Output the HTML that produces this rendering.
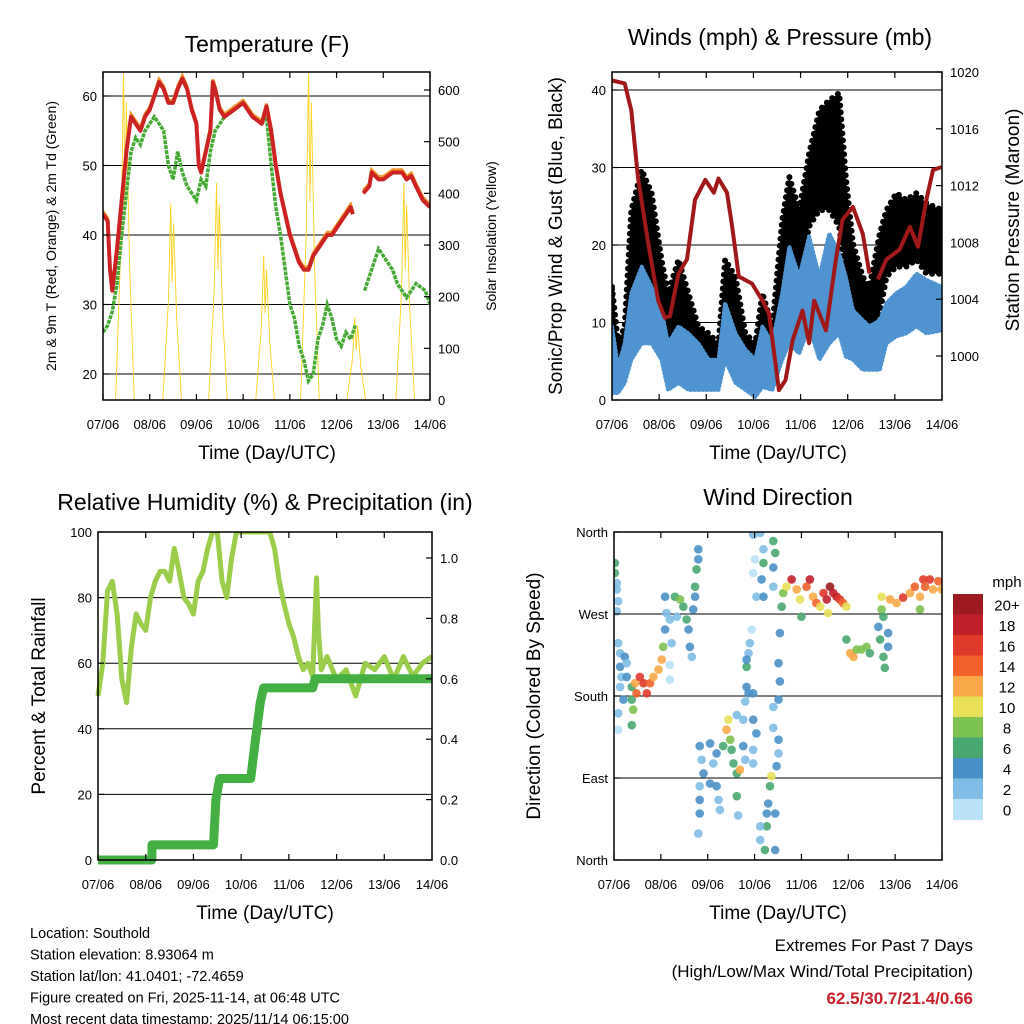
<!DOCTYPE html>
<html><head><meta charset="utf-8"><style>
html,body{margin:0;padding:0;background:#fff;}
svg{display:block;font-family:"Liberation Sans",sans-serif;}
</style></head><body>
<svg id="c" width="1024" height="1024" viewBox="0 0 1024 1024"></svg>
<script>
// ===== Temperature panel data (days since 07/06) =====
const tempT = [0,0.1,0.15,0.2,0.3,0.4,0.5,0.6,0.7,0.8,0.9,1.0,1.1,1.2,1.3,1.4,1.5,1.6,1.7,1.8,1.9,2.0,2.05,2.1,2.2,2.3,2.35,2.4,2.5,2.6,2.8,3.0,3.1,3.2,3.4,3.5,3.6,3.7,3.8,3.9,4.0,4.1,4.2,4.3,4.4,4.5,4.6,4.7,4.8,4.9,5.0,5.1,5.2,5.3,5.35,5.45,5.57,5.7,5.75,5.9,6.0,6.2,6.4,6.5,6.6,6.7,6.85,7.0];
const tempV = [43,42,35,32,38,45,52,57,56,55,57,58,60,62,61,59,59,61,62.5,61,58,56,50,49,52,55,62,61,58,57,58,59,58,57,56,58.5,55,50,46,43,40,38,36,35,35,37,38,39,40,40,41,42,43,44,43,null,46,47,49,48,48,49,49,48,48.5,47,45,44];
const dewT = [0,0.1,0.2,0.3,0.4,0.5,0.6,0.7,0.8,0.9,1.0,1.1,1.2,1.3,1.4,1.5,1.6,1.7,1.8,1.9,2.0,2.1,2.2,2.3,2.4,2.5,2.6,2.8,3.0,3.2,3.4,3.5,3.6,3.7,3.8,3.9,4.0,4.1,4.2,4.3,4.4,4.5,4.6,4.7,4.8,4.9,5.0,5.1,5.2,5.3,5.4,5.5,5.6,5.8,5.9,6.0,6.2,6.3,6.5,6.7,6.9,7.0];
const dewV = [26,27,29,33,40,46,52,54,53,55,56,57,56,55,50,48,52,49,47,46,45,48,47,52,55,56,57,58,59,57,56,57,50,44,40,35,30,28,24,22,19,20,25,27,30,28,25,24,26,25,27,null,32,36,38,37,35,33,31,33,32,30];
const solarPeakT = [0.47,1.48,2.46,3.47,4.43,5.42,6.47];
const solarPeakV = [640,380,420,280,640,160,420];
// ===== Winds panel =====
const presT = [0,0.27,0.41,0.55,0.77,0.98,1.12,1.23,1.41,1.59,1.76,1.98,2.16,2.26,2.44,2.55,2.69,2.97,3.19,3.33,3.54,3.68,3.83,4.04,4.18,4.29,4.54,4.75,4.89,5.11,5.32,5.46,5.55,5.64,5.82,6.1,6.32,6.49,6.67,6.81,6.99];
const presV = [1019.4,1019.2,1017.3,1012.6,1007.9,1003.9,1002.7,1002.8,1005.8,1006.8,1011.0,1012.4,1011.5,1012.5,1011.5,1009.1,1005.6,1005.1,1003.9,1003.0,997.6,998.3,1001.1,1003.2,1000.9,1003.9,1001.8,1006.8,1009.6,1010.5,1008.6,1005.8,null,1005.4,1006.8,1007.5,1009.1,1007.7,1011.0,1013.1,1013.3];
const windT = [0,0.13,0.27,0.41,0.63,0.84,1.05,1.19,1.41,1.62,1.83,2.05,2.26,2.4,2.62,2.83,3.04,3.19,3.4,3.61,3.76,3.97,4.18,4.4,4.61,4.82,4.96,5.11,5.32,5.46,5.68,5.82,6.03,6.24,6.46,6.67,7.0];
const gustHi = [14.6,7.3,9.5,24.5,29.7,26.7,18.1,13.8,18.1,13.8,9.5,8.6,7.3,18.1,15.9,8.6,7.3,13.8,9.5,23.2,28.8,24.5,31.8,37.4,38.7,39.6,28.8,20.2,15.9,14.6,21.5,24.5,26.7,25.8,26.7,25.4,24.5];
const gustLo = [5.2,4.3,4.3,13.8,15.9,13.8,10.8,6.0,7.3,6.0,4.3,4.3,3.0,9.5,7.3,4.3,3.0,5.2,3.0,13.8,15.9,15.9,22.4,24.5,24.5,22.4,15.9,10.8,8.6,8.2,11.2,15.9,17.2,17.2,18.1,16.3,16.3];
const windHi = [9.5,4.3,7.3,13.8,17.2,14.6,11.6,7.3,9.5,8.6,7.3,5.2,5.2,12.5,8.6,6.5,5.2,9.5,7.3,13.8,19.8,15.9,21.1,15.9,21.5,18.9,15.9,11.6,10.3,9.5,10.3,12.5,13.8,14.6,16.3,15.5,14.6];
const windLo = [0.9,0.9,2.2,5.2,7.3,7.3,5.2,1.3,2.2,1.3,1.3,1.3,1.3,5.2,2.2,1.3,0.4,1.7,1.3,5.2,7.3,6.0,9.5,5.2,7.3,8.6,5.6,5.2,3.9,3.9,3.9,7.3,8.2,8.6,9.5,8.6,9.0];
// ===== RH panel =====
const rhT = [0,0.1,0.2,0.3,0.4,0.5,0.6,0.7,0.8,0.9,1.0,1.1,1.2,1.3,1.4,1.5,1.6,1.7,1.8,1.9,2.0,2.1,2.2,2.3,2.4,2.5,2.6,2.7,2.8,2.9,3.0,3.2,3.4,3.6,3.7,3.8,3.9,4.0,4.1,4.2,4.3,4.4,4.5,4.58,4.62,4.68,4.8,5.0,5.2,5.4,5.6,5.8,6.0,6.2,6.4,6.6,6.8,7.0];
const rhV = [50,60,82,85,75,55,48,65,75,72,70,80,85,88,88,85,95,88,80,78,75,85,88,95,100,100,85,80,92,100,100,100,100,100,95,85,78,72,68,62,58,60,56,86,70,58,62,55,58,50,60,58,62,55,62,56,60,62];
const rainT = [0,1.13,1.13,2.42,2.47,2.55,2.62,3.2,3.3,3.4,3.47,4.5,4.55,7.0];
const rainV = [0,0,0.05,0.05,0.2,0.27,0.27,0.27,0.4,0.52,0.57,0.57,0.6,0.6];
// ===== Wind direction panel =====
const dirT = [0.02,0.02,0.06,0.06,0.09,0.06,0.09,0.13,0.23,0.13,0.27,0.16,0.27,0.13,0.2,0.09,0.09,0.38,0.38,0.41,0.38,0.45,0.48,0.55,0.63,0.7,0.77,0.84,0.95,1.02,1.05,1.19,1.19,1.09,1.12,1.09,1.19,1.23,1.3,1.34,1.41,1.48,1.55,1.59,1.62,1.66,1.69,1.73,1.76,1.8,1.8,1.73,1.83,1.87,1.91,1.83,1.83,1.83,1.8,2.05,2.12,2.19,2.19,2.23,2.26,2.05,2.33,2.4,2.44,2.48,2.51,2.55,2.62,2.69,2.62,2.65,2.76,2.8,2.62,2.76,2.83,2.87,2.9,2.94,2.83,2.87,2.8,2.97,2.97,3.04,2.97,2.97,2.83,2.97,3.01,2.97,3.12,3.19,3.19,3.15,3.04,3.19,3.4,3.44,3.4,3.4,3.54,3.51,3.54,3.51,3.4,3.4,3.51,3.51,3.47,3.36,3.33,3.29,3.26,3.26,3.12,3.12,3.22,3.44,3.44,3.61,3.58,3.68,3.79,3.9,3.97,4.0,4.11,4.18,4.25,4.32,4.4,4.47,4.54,4.61,4.68,4.75,4.82,4.89,4.96,4.57,4.96,5.04,5.11,5.18,5.28,5.39,5.46,5.64,5.68,5.75,5.78,5.85,5.85,5.71,5.71,5.75,5.89,6.03,6.17,6.32,6.42,6.53,6.53,6.6,6.74,6.81,6.92,6.99,6.64];
const dirDeg = [326,315,304,297,284,273,238,227,223,212,216,201,201,190,176,161,143,190,176,165,148,194,183,201,194,183,194,201,209,220,234,214,198,289,271,253,264,238,289,267,286,278,264,253,234,223,275,300,319,341,330,289,125,110,95,81,66,51,29,128,106,117,81,66,55,84,125,143,154,132,121,106,95,99,70,49,125,110,159,154,212,227,238,253,190,183,174,183,154,139,121,106,220,357,330,315,359,341,326,308,289,289,350,337,321,300,249,216,196,176,168,145,132,117,103,92,81,62,51,37,37,22,11,51,11,293,278,300,308,297,286,267,300,308,289,282,278,293,286,300,293,289,286,282,278,271,242,227,223,231,231,234,227,256,242,223,211,234,249,289,275,267,286,282,288,293,300,289,275,308,308,297,306,297,300];
const dirSpd = [7,6,3,3,2,2,2,2,4,4,3,3,4,2,4,2,1,6,6,8,6,12,14,16,16,16,14,13,12,12,9,1,1,4,3,4,2,2,6,3,8,6,6,4,4,2,5,6,7,4,4,4,4,2,4,2,4,4,2,4,3,4,4,2,2,4,7,12,10,8,6,6,7,12,6,3,4,3,2,2,6,3,2,1,4,4,2,4,4,4,2,2,5,2,1,1,3,3,6,4,2,4,6,6,4,2,4,4,4,4,2,2,4,2,4,10,6,4,4,6,2,2,6,4,4,8,6,10,18,12,10,6,14,18,12,14,10,16,18,20,18,18,16,14,10,10,6,12,12,9,8,8,7,4,6,6,6,4,4,10,8,6,12,12,16,12,14,12,8,16,16,12,14,12,14];
const cbLabels = ["20+","18","16","14","12","10","8","6","4","2","0"];
const cbColors = ["#9b1b1e","#c0202a","#e03a2a","#f0622a","#f8a848","#e8e058","#7cc250","#48a870","#4a90c8","#80bce6","#b8e2f8"];
const xTickLabels = ["07/06","08/06","09/06","10/06","11/06","12/06","13/06","14/06"];

const NS="http://www.w3.org/2000/svg";
const svg=document.getElementById('c');
function mk(tag,attrs,parent){const e=document.createElementNS(NS,tag);for(const k in attrs)e.setAttribute(k,attrs[k]);(parent||svg).appendChild(e);return e;}
function txt(s,x,y,size,anchor,extra,parent){const e=mk('text',Object.assign({x:x,y:y,'font-size':size,'text-anchor':anchor||'middle',fill:'#000'},extra||{}),parent);e.textContent=s;return e;}
function lin(d0,d1,p0,p1){return v=>p0+(v-d0)/(d1-d0)*(p1-p0);}
function pathFrom(ts,vs,fx,fy){let d='',pen=false;for(let i=0;i<ts.length;i++){if(vs[i]===null){pen=false;continue;}d+=(pen?'L':'M')+fx(ts[i]).toFixed(1)+','+fy(vs[i]).toFixed(1);pen=true;}return d;}
function colorFor(s){let i=Math.min(10,Math.floor(s/2));return cbColors[10-i];}

function frame(g,L,R,T,B,grid,fy){
  grid.forEach(v=>{const y=fy(v);mk('line',{x1:L,x2:R,y1:y,y2:y,stroke:'#000','stroke-width':1},g);});
}
function border(g,L,R,T,B,name){
  const r=mk('rect',{x:L,y:T,width:R-L,height:B-T,fill:'none',stroke:'#000','stroke-width':1.5},g);
  
  
  const fx=lin(0,7,L,R);
  for(let i=0;i<8;i++){const x=fx(i);
    mk('line',{x1:x,x2:x,y1:B,y2:B-6,stroke:'#000','stroke-width':1.2},g);
    mk('line',{x1:x,x2:x,y1:T,y2:T+6,stroke:'#000','stroke-width':1.2},g);
    const t=txt(xTickLabels[i],x,B+29,13,'middle',{},g);
    
    
  }
}
function yTicks(g,ticks,fy,x,side,labels,size){
  ticks.forEach((v,i)=>{const y=fy(v);
    mk('line',{x1:x,x2:x+(side==='left'?6:-6),y1:y,y2:y,stroke:'#000','stroke-width':1.2},g);
    const t=txt(labels?labels[i]:String(v),side==='left'?x-6:x+8,y+5,size||13,side==='left'?'end':'start',{},g);
    
    
  });
}
function vtitle(s,x,y,size,g,name){const t=txt(s,x,y,size,'middle',{transform:`rotate(-90 ${x} ${y})`},g);}

// ---------- Panel 1: Temperature ----------
(function(){
  const g=mk('g',{});
  const L=103,R=430,T=72,B=400;
  const fx=lin(0,7,L,R), fy=lin(20,60,374,96), fs=lin(0,600,400,90);
  frame(g,L,R,T,B,[20,30,40,50,60],fy);
  const cp=mk('clipPath',{id:'cp1'},g);mk('rect',{x:L,y:T,width:R-L,height:B-T},cp);
  const inner=mk('g',{'clip-path':'url(#cp1)'},g);
  solarPeakT.forEach((t,i)=>{const v=solarPeakV[i];
    const d=`M${fx(t-0.2)},${fs(0)} L${fx(t-0.08)},${fs(v*0.5)} L${fx(t-0.03)},${fs(v)} L${fx(t)},${fs(v*0.6)} L${fx(t+0.03)},${fs(v*0.9)} L${fx(t+0.1)},${fs(v*0.4)} L${fx(t+0.2)},${fs(0)}`;
    const p=mk('path',{d:d,fill:'none',stroke:'#ffd21f','stroke-width':0.9},inner);
    });
  const pg=mk('path',{d:pathFrom(dewT,dewV,fx,fy),fill:'none',stroke:'#44aa33','stroke-width':3.5,'stroke-dasharray':'4 1'},inner);
  
  const po=mk('path',{d:pathFrom(tempT,tempV.map(v=>v===null?null:v+0.4),fx,fy),fill:'none',stroke:'#f0962a','stroke-width':3},inner);
  
  const pr=mk('path',{d:pathFrom(tempT,tempV,fx,fy),fill:'none',stroke:'#cc2222','stroke-width':4,'stroke-linejoin':'round'},inner);
  
  border(g,L,R,T,B,'temperature-plot-frame');
  yTicks(g,[20,30,40,50,60],fy,L,'left');
  yTicks(g,[0,100,200,300,400,500,600],fs,R,'right');
  const t=txt('Temperature (F)',267,52,23,'middle',{},g);
  const xt=txt('Time (Day/UTC)',267,459,19,'middle',{},g);
  vtitle('2m & 9m T (Red, Orange) & 2m Td (Green)',56,236,14,g,'y-axis-title-left');
  vtitle('Solar Insolation (Yellow)',496,236,14,g,'y-axis-title-right');
})();

// ---------- Panel 2: Winds ----------
(function(){
  const g=mk('g',{});
  const L=612,R=942,T=72,B=400;
  const fx=lin(0,7,L,R), fy=lin(0,40,400,90), fp=lin(1000,1020,356,72);
  frame(g,L,R,T,B,[10,20,30,40],fy);
  const cp=mk('clipPath',{id:'cp2'},g);mk('rect',{x:L,y:T,width:R-L,height:B-T},cp);
  const inner=mk('g',{'clip-path':'url(#cp2)'},g);
  function band(hi,lo,col,name,w,dash){let d='';windT.forEach((t,i)=>{d+=(i?'L':'M')+fx(t).toFixed(1)+','+fy(hi[i]).toFixed(1);});
    for(let i=windT.length-1;i>=0;i--)d+='L'+fx(windT[i]).toFixed(1)+','+fy(lo[i]).toFixed(1);d+='Z';
    const p=mk('path',{d:d,fill:col,stroke:col,'stroke-width':w,'stroke-dasharray':dash,'stroke-linecap':'round','stroke-linejoin':'round'},inner);}
  band(gustHi,gustLo,'#000','gust-scatter',6,'0 7');
  band(windHi,windLo,'#4f94d0','wind-scatter',4,'1 3');
  const pp=mk('path',{d:pathFrom(presT,presV,fx,fp),fill:'none',stroke:'#a01818','stroke-width':4,'stroke-linejoin':'round'},inner);
  
  border(g,L,R,T,B,'winds-plot-frame');
  yTicks(g,[0,10,20,30,40],fy,L,'left');
  yTicks(g,[1000,1004,1008,1012,1016,1020],fp,R,'right');
  const t=txt('Winds (mph) & Pressure (mb)',780,45,23,'middle',{},g);
  const xt=txt('Time (Day/UTC)',778,459,19,'middle',{},g);
  vtitle('Sonic/Prop Wind & Gust (Blue, Black)',562,236,19,g,'y-axis-title-left');
  vtitle('Station Pressure (Maroon)',1019,220,19,g,'y-axis-title-right');
})();

// ---------- Panel 3: RH ----------
(function(){
  const g=mk('g',{});
  const L=98,R=432,T=532,B=860;
  const fx=lin(0,7,L,R), fy=lin(0,100,860,532), fr=lin(0,1,860,558);
  frame(g,L,R,T,B,[20,40,60,80],fy);
  const cp=mk('clipPath',{id:'cp3'},g);mk('rect',{x:L-5,y:T,width:R-L+10,height:B-T+5},cp);
  const inner=mk('g',{'clip-path':'url(#cp3)'},g);
  const ph=mk('path',{d:pathFrom(rhT,rhV,fx,fy),fill:'none',stroke:'#9acd4a','stroke-width':5,'stroke-linejoin':'round'},inner);
  
  const prn=mk('path',{d:pathFrom(rainT,rainV,fx,fr),fill:'none',stroke:'#44b044','stroke-width':9,'stroke-linejoin':'round'},inner);
  
  border(g,L,R,T,B,'humidity-plot-frame');
  yTicks(g,[0,20,40,60,80,100],fy,L,'left');
  yTicks(g,[0,0.2,0.4,0.6,0.8,1.0],fr,R,'right',['0.0','0.2','0.4','0.6','0.8','1.0']);
  const t=txt('Relative Humidity (%) & Precipitation (in)',265,510,23,'middle',{},g);
  const xt=txt('Time (Day/UTC)',265,919,19,'middle',{},g);
  vtitle('Percent & Total Rainfall',45,696,19,g,'y-axis-title-left');
})();

// ---------- Panel 4: Wind direction ----------
(function(){
  const g=mk('g',{});
  const L=614,R=942,T=532,B=860;
  const fx=lin(0,7,L,R), fy=lin(0,360,860,532);
  frame(g,L,R,T,B,[90,180,270],fy);
  const cp=mk('clipPath',{id:'cp4'},g);mk('rect',{x:L,y:T,width:R-L,height:B-T},cp);
  const inner=mk('g',{'clip-path':'url(#cp4)'},g);
  dirT.forEach((t,i)=>{
    const c=mk('circle',{cx:fx(t).toFixed(1),cy:fy(dirDeg[i]).toFixed(1),r:4.3,fill:colorFor(dirSpd[i]),'fill-opacity':0.9},inner);
    
    
  });
  border(g,L,R,T,B,'direction-plot-frame');
  yTicks(g,[0,90,180,270,360],fy,L,'left',['North','East','South','West','North']);
  const cb=mk('g',{},g);
  const h=20.5;
  cbColors.forEach((col,i)=>{const r=mk('rect',{x:953,y:594+i*h,width:30,height:h+0.5,fill:col},cb);
    
    const tl=txt(cbLabels[i],1007,594+i*h+h/2+6,15,'middle',{},cb);});
  const u=txt('mph',1007,587,15,'middle',{},cb);
  const t=txt('Wind Direction',778,505,23,'middle',{},g);
  const xt=txt('Time (Day/UTC)',778,919,19,'middle',{},g);
  vtitle('Direction (Colored By Speed)',540,696,19,g,'y-axis-title-left');
})();

// ---------- Footer ----------
(function(){
  const g=mk('g',{});
  const lines=['Location: Southold','Station elevation: 8.93064 m','Station lat/lon: 41.0401; -72.4659','Figure created on Fri, 2025-11-14, at 06:48 UTC','Most recent data timestamp: 2025/11/14 06:15:00'];
  lines.forEach((s,i)=>{const t=txt(s,30,938+i*21.5,14.5,'start',{},g);});
  const e=mk('g',{});
  const a=txt('Extremes For Past 7 Days',973,951,17,'end',{},e);
  const b=txt('(High/Low/Max Wind/Total Precipitation)',973,977,17,'end',{},e);
  const c=txt('62.5/30.7/21.4/0.66',973,1004,17,'end',{fill:'#c8202a','font-weight':'bold'},e);
})();
</script>
</body></html>
